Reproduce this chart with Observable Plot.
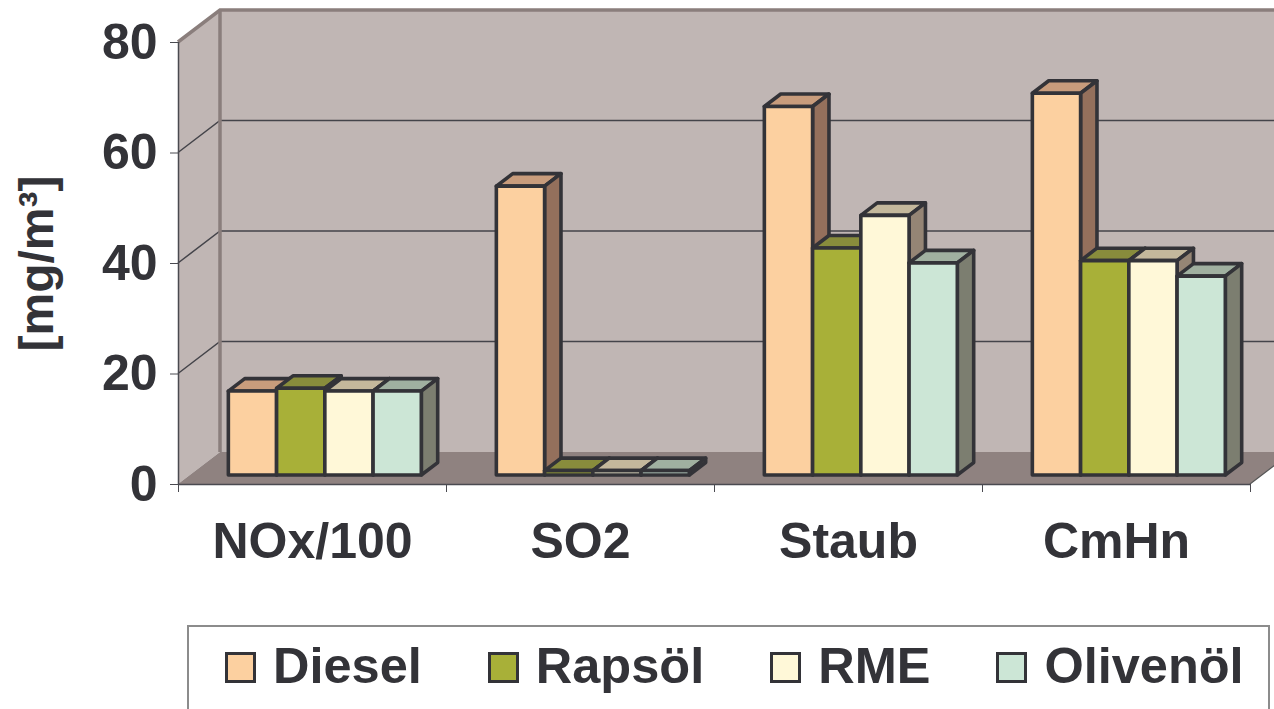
<!DOCTYPE html>
<html>
<head>
<meta charset="utf-8">
<script src="https://cdn.jsdelivr.net/npm/d3@7"></script>
<script src="https://cdn.jsdelivr.net/npm/@observablehq/plot@0.6"></script>
<style>
  body { margin: 0; background: #fff; font-family: "Liberation Sans", Arial, sans-serif; }
  #chart { position: relative; width: 1274px; height: 709px; overflow: hidden; }
  #chart svg { display: block; }
  #legend {
    position: absolute; left: 187px; top: 625px; width: 1083px; height: 110px;
    border: 2px solid #8c8c8c; box-sizing: border-box; background: #fff;
  }
  #legend .row {
    position: absolute; left: 36px; top: 14px; white-space: nowrap;
    font-size: 50.5px; line-height: 49px; font-weight: bold; color: #333338;
  }
  #legend .item { display: inline-block; margin-right: 66px; }
  #legend .swatch {
    display: inline-block; width: 25px; height: 25px; border: 3px solid #333338;
    vertical-align: baseline; margin-right: 17px;
  }
</style>
</head>
<body>
<div id="chart"></div>
<script>
// Emissions per fuel, in mg/m³ (NOx divided by 100)
const categories = ["NOx/100", "SO2", "Staub", "CmHn"];
const seriesNames = ["Diesel", "Rapsöl", "RME", "Olivenöl"];
const diesel    = [15.2, 52.3, 66.7, 69.1];
const rapsoel   = [15.7, 0.8, 41.1, 38.8];
const rme       = [15.2, 0.8, 47.0, 38.8];
const olivenoel = [15.2, 0.8, 38.4, 36.0];
const yTicks = [0, 20, 40, 60, 80];
const yLabel = "[mg/m³]";

// Face colours per series: front, top, side
const frontColors = ["#fcd0a0", "#a8b038", "#fff8d8", "#cce6d6"];
const topColors   = ["#c89c7c", "#888c3c", "#c4b89c", "#a0b0a0"];
const sideColors  = ["#94705c", "#6e7430", "#958575", "#7c7e70"];

const seriesValues = [diesel, rapsoel, rme, olivenoel];
const rows = [];
categories.forEach((category, ci) => {
  seriesNames.forEach((series, si) => {
    rows.push({category, ci, series, si, value: seriesValues[si][ci]});
  });
});

// 3D projection: depth z in [0, 1] moves points right and up
const DX = 42, DY = 32;
const Z0 = 0.28, Z1 = 0.67;     // front and back planes of the bars
const BAR_W = 0.18;             // bar width in category units
const GROUP_START = 0.5 - 2 * BAR_W + 0.004;

const ink = "#333338";

function projector(x, y) {
  return (xv, yv, z) => [x(xv) + z * DX, y(yv) - z * DY];
}
const pts = arr => arr.map(p => p.join(",")).join(" ");

// Walls, floor and gridlines
function walls(index, scales) {
  const P = projector(scales.x, scales.y);
  const g = d3.create("svg:g");
  g.append("polygon").attr("points", pts([P(0, 0, 1), P(4, 0, 1), P(4, 80, 1), P(0, 80, 1)]))
    .attr("fill", "#c0b6b4");
  g.append("polygon").attr("points", pts([P(0, 0, 0), P(0, 0, 1), P(0, 80, 1), P(0, 80, 0)]))
    .attr("fill", "#c0b6b4");
  g.append("polygon").attr("points", pts([P(0, 0, 0), P(4, 0, 0), P(4, 0, 1), P(0, 0, 1)]))
    .attr("fill", "#8f8280");
  for (const v of yTicks.filter(t => t > 0 && t < 80)) {
    g.append("polyline").attr("points", pts([P(0, v, 0), P(0, v, 1), P(4, v, 1)]))
      .attr("fill", "none").attr("stroke", "#44444a").attr("stroke-width", 1.5);
  }
  // wall edges
  g.append("polyline").attr("points", pts([P(0, 80, 0), P(0, 80, 1), P(4, 80, 1)]))
    .attr("fill", "none").attr("stroke", "#8a7e7c").attr("stroke-width", 3.5);
  g.append("line")
    .attr("x1", P(0, 0, 1)[0]).attr("y1", P(0, 0, 1)[1])
    .attr("x2", P(0, 80, 1)[0]).attr("y2", P(0, 80, 1)[1])
    .attr("stroke", "#8a7e7c").attr("stroke-width", 3.5);
  g.append("line")
    .attr("x1", P(4, 0, 0)[0]).attr("y1", P(4, 0, 0)[1])
    .attr("x2", P(4, 0, 1)[0]).attr("y2", P(4, 0, 1)[1])
    .attr("stroke", "#555").attr("stroke-width", 1.2);
  return g.node();
}

// Bars as boxes, painted left to right so each front hides the previous side
function bars(index, scales) {
  const P = projector(scales.x, scales.y);
  const g = d3.create("svg:g")
    .attr("stroke", ink).attr("stroke-width", 3.6).attr("stroke-linejoin", "round");
  for (const r of rows) {
    const x0 = r.ci + GROUP_START + r.si * BAR_W;
    const x1 = x0 + BAR_W;
    const v = r.value;
    g.append("polygon").attr("fill", topColors[r.si])
      .attr("points", pts([P(x0, v, Z0), P(x1, v, Z0), P(x1, v, Z1), P(x0, v, Z1)]));
    g.append("polygon").attr("fill", sideColors[r.si])
      .attr("points", pts([P(x1, 0, Z0), P(x1, 0, Z1), P(x1, v, Z1), P(x1, v, Z0)]));
    g.append("polygon").attr("fill", frontColors[r.si])
      .attr("points", pts([P(x0, 0, Z0), P(x1, 0, Z0), P(x1, v, Z0), P(x0, v, Z0)]));
  }
  return g.node();
}

const font = {fontSize: 50, fontWeight: "bold", fill: ink};

const chart = Plot.plot({
  width: 1274,
  height: 620,
  marginLeft: 178,
  marginRight: 24,
  marginTop: 42,
  marginBottom: 136,
  style: {fontFamily: "'Liberation Sans', Arial, sans-serif", background: "transparent", overflow: "visible"},
  x: {type: "linear", domain: [0, 4], label: null},
  y: {domain: [0, 80], label: null},
  marks: [
    walls,
    Plot.ruleX([0], {y1: 0, y2: 80, stroke: "#4a4a50", strokeWidth: 1.5}),
    Plot.ruleY([0], {x1: 0, x2: 4, stroke: "#4a4a50", strokeWidth: 1.5}),
    Plot.axisY(yTicks, {tickSize: 8, tickPadding: 13, stroke: "#4a4a50", ...font}),
    Plot.axisX([0, 1, 2, 3, 4], {tickSize: 8, tickFormat: () => "", stroke: "#4a4a50"}),
    Plot.axisX(categories.map((c, i) => i + 0.5), {
      tickSize: 0, tickPadding: 38, tickFormat: d => categories[Math.floor(d)], ...font
    }),
    bars,
    Plot.text([yLabel], {
      frameAnchor: "left", textAnchor: "middle", rotate: -90, dx: -141,
      fontSize: 48, fontWeight: "bold", fill: ink
    })
  ]
});

const container = document.getElementById("chart");
container.appendChild(chart);

// Legend below the plot
const legend = d3.select(container).append("div").attr("id", "legend");
const row = legend.append("div").attr("class", "row");
seriesNames.forEach((name, i) => {
  const item = row.append("span").attr("class", "item");
  item.append("span").attr("class", "swatch").style("background", frontColors[i]);
  item.append("span").text(name);
});
</script>
</body>
</html>
